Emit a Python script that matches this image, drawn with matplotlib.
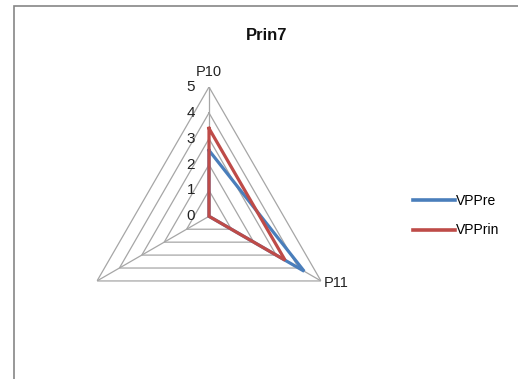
import numpy as np
import matplotlib
matplotlib.use("Agg")
import matplotlib.pyplot as plt
from matplotlib.patches import Rectangle
from matplotlib.lines import Line2D
from matplotlib.transforms import offset_copy

plt.rcParams['font.family'] = ['Liberation Sans', 'DejaVu Sans']

# Radar data
categories = ["P10", "P11", ""]
levels = [0, 1, 2, 3, 4, 5]
series_names = ["VPPre", "VPPrin"]
vppre = [2.55, 4.25, 0.0]
vpprin = [3.4, 3.4, 0.0]
colors = ["#4a7ebb", "#be4b48"]

W, H, DPI = 518, 379, 100
fig = plt.figure(figsize=(W / DPI, H / DPI), dpi=DPI)

# Chart area frame (left and top edges visible)
fig.add_artist(Rectangle((14 / W, -0.1), 1.2, 1.1 - 6 / H,
                         transform=fig.transFigure, fill=False,
                         edgecolor="#868686", linewidth=1.2))

cx, cy, R = 209, 216.3, 129.3
ax = fig.add_axes([(cx - R) / W, 1 - (cy + R) / H, 2 * R / W, 2 * R / H],
                  projection="polar")
ax.set_theta_offset(np.pi / 2)
ax.set_theta_direction(-1)
ax.set_ylim(0, 5)
ax.grid(False)
ax.spines["polar"].set_visible(False)
ax.set_xticks([])
ax.set_yticks([])
ax.patch.set_alpha(0)

n = len(categories)
angles = np.linspace(0, 2 * np.pi, n, endpoint=False)
closed = np.concatenate([angles, angles[:1]])

grid_color = "#a6a6a6"
for lv in levels[1:]:
    ax.plot(closed, [lv] * (n + 1), color=grid_color, linewidth=0.9, zorder=1)
for a in angles:
    ax.plot([a, a], [0, levels[-1]], color=grid_color, linewidth=0.9, zorder=1)

# Value labels along the first spoke
lab_tr = offset_copy(ax.transData, fig=fig, x=-14, y=0, units="dots")
for lv in levels:
    ax.text(0, lv, str(lv), transform=lab_tr, ha="right", va="center",
            fontsize=11, color="#222222")

# Category labels
top_tr = offset_copy(ax.transData, fig=fig, x=0, y=15, units="dots")
ax.text(angles[0], 5, categories[0], transform=top_tr, ha="center",
        va="center", fontsize=10.5, color="#222222")
br_tr = offset_copy(ax.transData, fig=fig, x=3, y=-2, units="dots")
ax.text(angles[1], 5, categories[1], transform=br_tr, ha="left",
        va="center", fontsize=10.5, color="#222222")

for vals, col in zip([vppre, vpprin], colors):
    v = list(vals) + [vals[0]]
    ax.plot(closed, v, color=col, linewidth=2.3, zorder=3,
            solid_joinstyle="miter")

fig.text(267 / W, 1 - 35 / H, "Prin7", ha="center", va="center",
         fontsize=12, fontweight="bold", color="#111111")

handles = [Line2D([], [], color=c, linewidth=2.6) for c in colors]
fig.legend(handles, series_names, loc="center left",
           bbox_to_anchor=(413 / W, 1 - 215.5 / H), frameon=False,
           fontsize=10, handlelength=3.0, handletextpad=0.1,
           labelspacing=1.15, borderaxespad=0, borderpad=0)

fig.savefig("out.png", dpi=DPI)
